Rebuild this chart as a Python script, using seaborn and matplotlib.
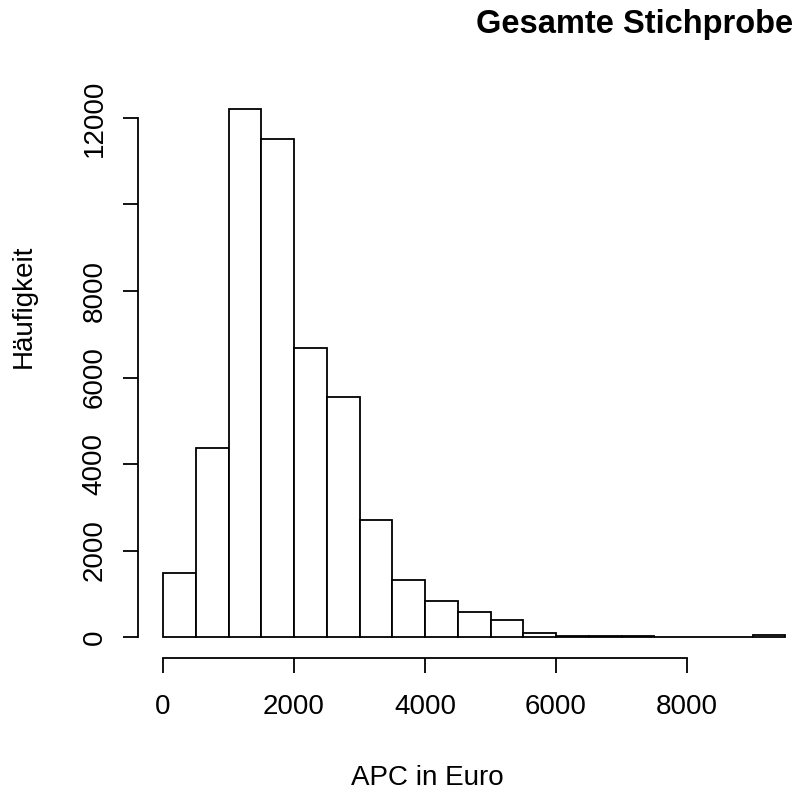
import numpy as np
import pandas as pd
import seaborn as sns
import matplotlib.pyplot as plt

# histogram data (bin width 500 Euro)
bin_edges = [0, 500, 1000, 1500, 2000, 2500, 3000, 3500, 4000, 4500, 5000,
             5500, 6000, 6500, 7000, 7500, 8000, 8500, 9000, 9500]
counts = [1480, 4370, 12210, 11520, 6690, 5550, 2700, 1320, 840, 575,
          400, 85, 30, 25, 22, 5, 3, 4, 35]
x_ticks = [0, 2000, 4000, 6000, 8000]
y_ticks = [0, 2000, 4000, 6000, 8000, 10000, 12000]
y_ticklabels = ['0', '2000', '4000', '6000', '8000', '', '12000']

sns.set_style('white')
plt.rcParams['font.family'] = ['Liberation Sans', 'DejaVu Sans']
plt.rcParams['text.color'] = 'black'
plt.rcParams['xtick.color'] = 'black'
plt.rcParams['ytick.color'] = 'black'

W, H = 806, 792
fig = plt.figure(figsize=(W / 100, H / 100), dpi=100)

# pixel mapping of the reference: x 0 -> 163px, 8000 -> 687px ; y 0 -> 637px, 12000 -> 118px
px_x = (687 - 163) / 8000
px_y = (637 - 118) / 12000
left_px, right_px, bottom_px, top_px = 138, 806, 658, 100
ax = fig.add_axes([left_px / W, (H - bottom_px) / H,
                   (right_px - left_px) / W, (bottom_px - top_px) / H])
ax.set_xlim((left_px - 163) / px_x, (right_px - 163) / px_x)
ax.set_ylim(-(bottom_px - 637) / px_y, (637 - top_px) / px_y)

mids = [(a + b) / 2 for a, b in zip(bin_edges[:-1], bin_edges[1:])]
df = pd.DataFrame({'apc': mids, 'n': counts})
sns.histplot(data=df, x='apc', weights='n', bins=bin_edges, ax=ax,
             color='white', edgecolor='black', linewidth=1.3, alpha=1)

for s in ['top', 'right']:
    ax.spines[s].set_visible(False)
for s in ['left', 'bottom']:
    ax.spines[s].set_color('black')
    ax.spines[s].set_linewidth(1.3)
ax.spines['bottom'].set_bounds(0, 8000)
ax.spines['left'].set_bounds(0, 12000)

ax.set_xticks(x_ticks)
ax.set_yticks(y_ticks)
ax.set_yticklabels(y_ticklabels)
ax.tick_params(axis='both', direction='out', length=11, width=1.3,
               colors='black', labelsize=20, left=True, bottom=True)
ax.tick_params(axis='x', pad=15)
ax.tick_params(axis='y', pad=11)
for lab in ax.get_yticklabels():
    lab.set_rotation(90)
    lab.set_va('center')
ax.set_xlabel('')
ax.set_ylabel('')
ax.grid(False)

fig.text(427 / W, 1 - 785 / H, 'APC in Euro', fontsize=20, ha='center', va='baseline')
fig.text(24 / W, 1 - 306 / H, 'Häufigkeit', fontsize=20, rotation=90,
         ha='center', va='center')
fig.text(635 / W, 1 - 33 / H, 'Gesamte Stichprobe', fontsize=23.5,
         fontweight='bold', ha='center', va='baseline')

fig.savefig('out.png', dpi=100, facecolor='white')
